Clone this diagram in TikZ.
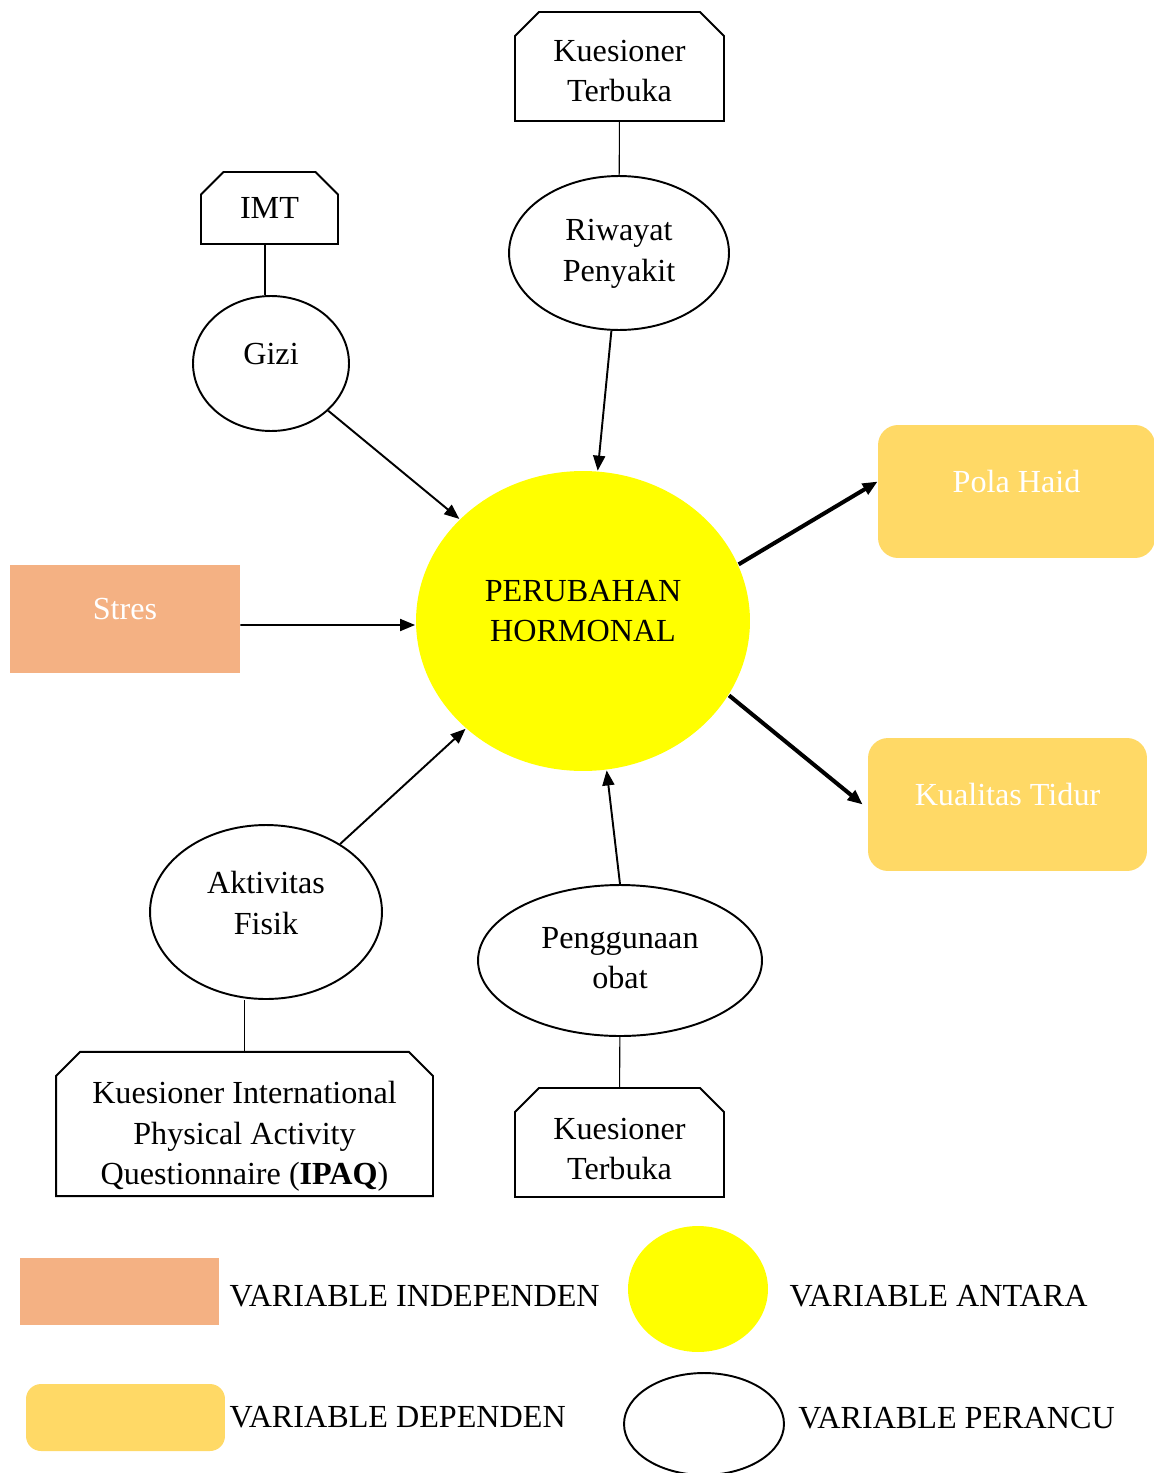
\documentclass[tikz,border=0pt]{standalone}
\usepackage{fontspec}
\setmainfont{Liberation Serif}
\usetikzlibrary{shapes.geometric,shapes.misc,arrows.meta,positioning}
\definecolor{indep}{HTML}{F4B183}
\definecolor{dep}{HTML}{FFD966}
\definecolor{antara}{HTML}{FFFF00}
% teks bertingkat, digeser naik/turun tanpa mengubah ukuran kotak
\newcommand{\naik}[2]{\raisebox{#1}[\height][\depth]{\begin{tabular}{@{}c@{}}#2\end{tabular}}}

\begin{document}
\begin{tikzpicture}[x=0.02cm,y=-0.02cm,font=\fontsize{18.3}{22.8}\selectfont,
    >={Triangle[length=0.3cm,width=0.24cm]}]
  \useasboundingbox (0,0) rectangle (1153,1473);

  % alat ukur
  \begin{scope}[every node/.style={chamfered rectangle, chamfered rectangle corners={north west,north east},
      chamfered rectangle xsep=0.24cm, chamfered rectangle ysep=0.24cm, draw, line width=1.1pt, inner sep=0pt}]
    \node (kt1)  at (619.5,66.5)  [minimum width=4.18cm, minimum height=2.18cm] {\naik{-0.14cm}{Kuesioner\\Terbuka}};
    \node (imt)  at (269.5,208)   [minimum width=2.74cm, minimum height=1.44cm] {IMT};
    \node (ipaq) at (244.5,1124)  [minimum width=7.54cm, minimum height=2.88cm] {\naik{-0.24cm}{Kuesioner International\\Physical Activity\\Questionnaire (\textbf{IPAQ})}};
    \node (kt2)  at (619.5,1142.5) [minimum width=4.18cm, minimum height=2.18cm] {\naik{-0.18cm}{Kuesioner\\Terbuka}};
  \end{scope}

  % variabel perancu dan antara
  \begin{scope}[every node/.style={ellipse, draw, line width=1.1pt, inner sep=0pt}]
    \node (riw)  at (619,253)   [minimum width=4.4cm, minimum height=3.08cm] {\naik{0cm}{Riwayat\\Penyakit}};
    \node (gizi) at (271,363.5) [minimum width=3.12cm, minimum height=2.7cm, text depth=0.4cm] {Gizi};
    \node (akt)  at (266,912)   [minimum width=4.64cm, minimum height=3.48cm] {\naik{0.12cm}{Aktivitas\\Fisik}};
    \node (peng) at (620,960.5) [minimum width=5.68cm, minimum height=3.02cm] {\naik{0cm}{Penggunaan\\obat}};
    \node (hor)  at (583,621)   [fill=antara, draw=none, minimum width=6.68cm, minimum height=6cm] {\naik{0.15cm}{PERUBAHAN\\HORMONAL}};
  \end{scope}

  % variabel independen dan dependen
  \begin{scope}[every node/.style={text=white, inner sep=0pt, text depth=0.4cm}]
    \node (stres) at (125,619)     [fill=indep, minimum width=4.6cm, minimum height=2.16cm] {Stres};
    \node (pola)  at (1016.5,491.5) [fill=dep, rounded corners=0.4cm, minimum width=5.54cm, minimum height=2.66cm] {Pola Haid};
    \node (kual)  at (1007.5,804.5) [fill=dep, rounded corners=0.4cm, minimum width=5.58cm, minimum height=2.66cm] {Kualitas Tidur};
  \end{scope}

  \draw[line width=0.6pt] (kt1) -- (riw);
  \draw[line width=0.6pt] ([xshift=-0.09cm]imt.south) -- ([xshift=-0.09cm]imt.south |- gizi.north);
  \draw[line width=0.6pt] (ipaq.north) -- (ipaq.north |- akt.south);
  \draw[line width=0.6pt] (kt2) -- (peng);

  \begin{scope}[line width=1.1pt]
    \draw[->] (gizi) -- (hor);
    \draw[->] (riw) -- (hor);
    \draw[->] ([yshift=-0.12cm]stres.east) -- ([yshift=-0.08cm]hor.west);
    \draw[->] (akt) -- (hor);
    \draw[->] (peng.north) -- (hor.-81);
  \end{scope}
  \draw[->, line width=2.3pt] (hor.20) -- ([yshift=0.2cm]pola.west);
  \draw[->, line width=2.3pt] (hor.-27) -- ([xshift=-0.1cm]kual.west);

  % keterangan
  \begin{scope}[every node/.style={inner sep=0pt}]
    \node (lgind) at (119.5,1291.5) [fill=indep, minimum width=3.98cm, minimum height=1.34cm] {};
    \node (lgdep) at (125.5,1417.5) [fill=dep, rounded corners=0.3cm, minimum width=3.98cm, minimum height=1.34cm] {};
    \node (lgant) at (698,1289) [ellipse, fill=antara, minimum width=2.8cm, minimum height=2.52cm] {};
    \node (lgper) at (704,1424) [ellipse, draw, line width=1.1pt, minimum width=3.2cm, minimum height=2.04cm] {};
    \node [right=0.2cm of lgind, yshift=-0.09cm] {VARIABLE INDEPENDEN};
    \node [right=0.08cm of lgdep] {VARIABLE DEPENDEN};
    \node [right=0.42cm of lgant, yshift=-0.14cm] {VARIABLE ANTARA};
    \node [right=0.26cm of lgper, yshift=0.12cm] {VARIABLE PERANCU};
  \end{scope}
\end{tikzpicture}
\end{document}
